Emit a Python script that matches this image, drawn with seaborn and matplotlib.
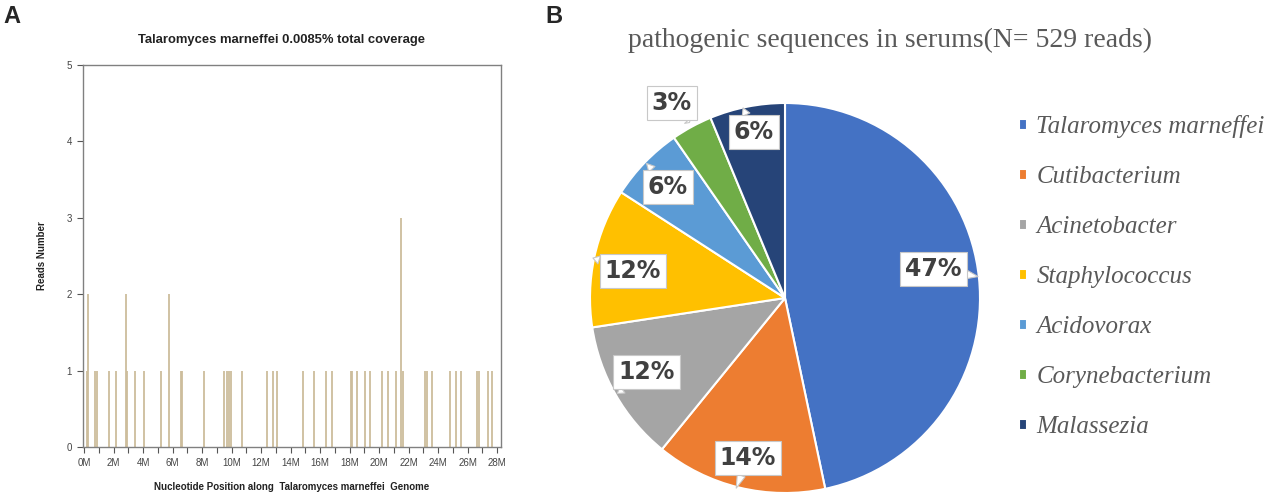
import numpy as np
import pandas as pd
import matplotlib
matplotlib.use("Agg")
import matplotlib.pyplot as plt
import seaborn as sns
from matplotlib.font_manager import FontProperties

# ---------------- data ----------------
# Panel A: read coverage along genome (position in Mb, reads number)
read_pos_mb = [0.18, 0.25, 0.77, 0.86, 1.72, 2.17, 2.85, 2.94, 3.46, 4.05,
               5.24, 5.74, 6.55, 6.64, 8.14, 9.51, 9.67, 9.85, 9.99, 10.73,
               12.43, 12.84, 13.10, 14.83, 15.61, 16.41, 16.81, 18.10, 18.20,
               18.49, 19.03, 19.41, 20.20, 20.61, 21.13, 21.49, 21.60, 23.12,
               23.23, 23.57, 24.81, 25.22, 25.58, 26.62, 26.80, 27.41, 27.64]
read_count = [1, 2, 1, 1, 1, 1, 2, 1, 1, 1,
              1, 2, 1, 1, 1, 1, 1, 1, 1, 1,
              1, 1, 1, 1, 1, 1, 1, 1, 1,
              1, 1, 1, 1, 1, 1, 3, 1, 1,
              1, 1, 1, 1, 1, 1, 1, 1, 1]
x_tick_mb = list(range(0, 29))
x_tick_labels = [f"{i}M" if i % 2 == 0 else "" for i in x_tick_mb]
y_ticks = [0, 1, 2, 3, 4, 5]

# Panel B: pathogenic sequences (reads)
species = ["Talaromyces marneffei", "Cutibacterium", "Acinetobacter",
           "Staphylococcus", "Acidovorax", "Corynebacterium", "Malassezia"]
reads = [247, 75, 62, 61, 33, 18, 33]
colors = ["#4472C4", "#ED7D31", "#A5A5A5", "#FFC000", "#5B9BD5", "#70AD47", "#264478"]

# label box centres and callout tips (in pie-radius units) - layout only
label_xy = [(0.76, 0.15), (-0.19, -0.82), (-0.71, -0.38), (-0.78, 0.14),
            (-0.60, 0.57), (-0.58, 1.00), (-0.16, 0.85)]
tip_xy = [(0.99, 0.11), (-0.25, -0.975), (-0.86, -0.49), (-0.985, 0.205),
          (-0.71, 0.69), (-0.49, 0.90), (-0.215, 0.975)]

# ---------------- figure ----------------
sns.set_theme(style="white")
plt.rcParams["font.family"] = ["Liberation Sans", "DejaVu Sans"]

W, H = 1279, 501
fig = plt.figure(figsize=(W / 100, H / 100), dpi=100)

# ---- Panel A ----
axA = fig.add_axes([83 / W, 1 - 447 / H, (501 - 83) / W, (447 - 65) / H])
dfA = pd.DataFrame({"pos": read_pos_mb, "reads": read_count})
axA.vlines(dfA["pos"], 0, dfA["reads"], colors="#cdbd9c", linewidth=1.3)
axA.set_xlim(-0.07, 28.27)
axA.set_ylim(0, 5)
axA.set_xticks(x_tick_mb)
axA.set_xticklabels(x_tick_labels)
axA.set_yticks(y_ticks)
axA.tick_params(axis="both", direction="out", length=4, width=0.8,
                color="#555555", labelsize=7, labelcolor="#444444", pad=4,
                bottom=True, left=True)
for s in axA.spines.values():
    s.set_visible(True)
    s.set_color("#808080")
    s.set_linewidth(1.0)
fig.text(282 / W, 1 - 40 / H, "Talaromyces marneffei 0.0085% total coverage",
         fontsize=9.4, fontweight="bold", color="#222222", ha="center", va="center")
axA.set_xlabel("Nucleotide Position along  Talaromyces marneffei  Genome",
               fontsize=7, fontweight="bold", color="#222222")
axA.xaxis.set_label_coords(0.5, -(487 - 447) / 382)
axA.xaxis.label.set_va("center")
axA.set_ylabel("Reads Number", fontsize=7, fontweight="bold", color="#222222")
axA.yaxis.set_label_coords(-(83 - 42) / 418, 0.5)
axA.yaxis.label.set_va("center")

fig.text(3 / W, 1 - 5 / H, "A", fontsize=17, fontweight="bold", va="top", ha="left")
fig.text(545 / W, 1 - 5 / H, "B", fontsize=17, fontweight="bold", va="top", ha="left")

# ---- Panel B ----
cx, cy, R = 785, 501 - 298, 195.0
left_px, right_px, bot_px, top_px = 575, 995, 3, 463
axB = fig.add_axes([left_px / W, bot_px / H, (right_px - left_px) / W, (top_px - bot_px) / H])

wedges, _ = axB.pie(reads, colors=colors, startangle=90, counterclock=False,
                    radius=1.0, center=(0, 0), frame=False,
                    wedgeprops=dict(edgecolor="white", linewidth=1.5))
axB.set_xlim((left_px - cx) / R, (right_px - cx) / R)
axB.set_ylim((bot_px - cy) / R, (top_px - cy) / R)
axB.set_aspect("auto")
axB.axis("off")

total = sum(reads)
for val, (lx, ly), (tx, ty) in zip(reads, label_xy, tip_xy):
    axB.annotate(f"{round(100 * val / total)}%", xy=(tx, ty), xytext=(lx, ly),
                 ha="center", va="center", fontsize=17, fontweight="bold",
                 family=["DejaVu Sans"], color="#404040",
                 bbox=dict(boxstyle="square,pad=0.22", facecolor="white",
                           edgecolor="#c8c8c8", linewidth=0.8),
                 arrowprops=dict(arrowstyle="wedge,tail_width=0.35,shrink_factor=0.5",
                                 facecolor="white", edgecolor="#c8c8c8",
                                 linewidth=0.8, shrinkA=0, shrinkB=0))

fig.text((625 + 1155) / 2 / W, 1 - 40 / H,
         "pathogenic sequences in serums(N= 529 reads)",
         family=["Liberation Serif", "DejaVu Serif"], fontsize=20,
         color="#595959", ha="center", va="center")

leg = axB.legend(wedges, species, loc="upper left",
                 bbox_to_anchor=(1019 / W, 1 - 115 / H),
                 bbox_transform=fig.transFigure, frameon=False, borderpad=0,
                 borderaxespad=0,
                 prop=FontProperties(family="Liberation Serif", style="italic", size=18),
                 labelcolor="#595959", handlelength=0.3, handleheight=0.3,
                 handletextpad=0.4, labelspacing=1.12)

fig.savefig("out.png", dpi=100)
